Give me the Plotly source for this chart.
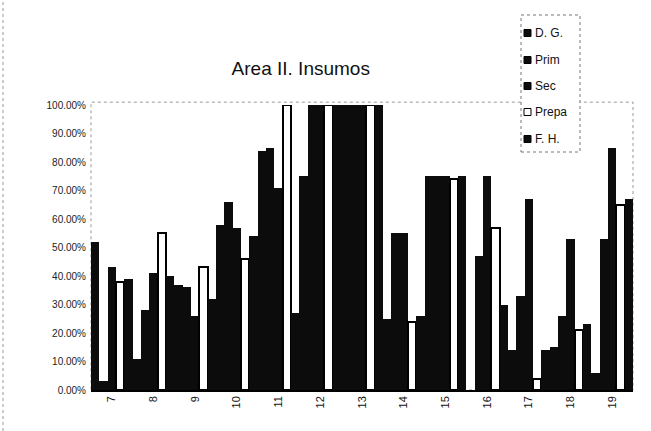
import plotly.graph_objects as go

categories = ['7', '8', '9', '10', '11', '12', '13', '14', '15', '16', '17', '18', '19']
dg    = [52, 11, 37, 58, 84, 75, 100, 25, 75, 0, 14, 15, 6]
prim  = [3, 28, 36, 66, 85, 100, 100, 55, 75, 47, 33, 26, 53]
sec   = [43, 41, 26, 57, 71, 100, 100, 55, 75, 75, 67, 53, 85]
prepa = [38, 55, 43, 46, 100, 100, 100, 24, 74, 57, 4, 21, 65]
fh    = [39, 40, 32, 54, 27, 100, 100, 26, 75, 30, 14, 23, 67]
y_ticks = [i / 10 for i in range(11)]

series = [
    ('D. G.', dg, '#0c0c0c', 0),
    ('Prim', prim, '#0c0c0c', 0),
    ('Sec', sec, '#0c0c0c', 0),
    ('Prepa', prepa, '#ffffff', 2),
    ('F. H.', fh, '#0c0c0c', 0),
]

# plot area in pixels (for placing the hand-drawn legend box)
L, R, T, B = 91, 633, 105, 390
def px(x):
    return (x - L) / (R - L)
def py(y):
    return (B - y) / (B - T)

fig = go.Figure()
for name, vals, fill, lw in series:
    fig.add_trace(go.Bar(
        name=name, x=categories, y=[v / 100 for v in vals],
        marker=dict(color=fill, line=dict(color='#000000', width=lw)),
        showlegend=False,
    ))

shapes = [
    dict(type='rect', xref='paper', yref='paper', x0=0, x1=1, y0=0, y1=1.01,
         line=dict(color='#999', width=1, dash='dot'), layer='below'),
    dict(type='line', xref='paper', yref='paper', x0=px(3), x1=px(3),
         y0=py(431), y1=py(0), line=dict(color='#999', width=1, dash='dot')),
    dict(type='rect', xref='paper', yref='paper', x0=px(521), x1=px(580),
         y0=py(152), y1=py(15), fillcolor='white',
         line=dict(color='#777', width=1, dash='dot')),
]
annotations = []
entry_y = [33, 60, 86, 112, 139]
for (name, vals, fill, lw), ey in zip(series, entry_y):
    shapes.append(dict(type='rect', xref='paper', yref='paper',
                       x0=px(524), x1=px(531), y0=py(ey + 3.5), y1=py(ey - 3.5),
                       fillcolor=fill, line=dict(color='#000', width=1)))
    annotations.append(dict(text=name, xref='paper', yref='paper', x=px(533),
                            y=py(ey), xanchor='left', yanchor='middle',
                            showarrow=False, font=dict(size=12, color='#111')))

fig.update_layout(
    width=651, height=431,
    margin=dict(l=L, r=651 - R, t=T, b=431 - B),
    paper_bgcolor='white', plot_bgcolor='white',
    barmode='group', bargap=0, bargroupgap=0,
    font=dict(family='Liberation Sans, Arial, sans-serif', color='#111'),
    title=dict(text='Area II. Insumos', x=0.462, xref='container', xanchor='center',
               y=1 - 68 / 431, yref='container', yanchor='middle',
               font=dict(size=19, color='#111')),
    showlegend=False,
    xaxis=dict(type='category', range=[-0.5, 12.5], tickangle=-90,
               tickfont=dict(size=11), showline=True, linecolor='#000',
               linewidth=1.5, ticks='', showgrid=False),
    yaxis=dict(range=[0, 1], tickvals=y_ticks, tickformat='.2%',
               tickfont=dict(size=10, color='#222'), showgrid=False,
               showline=False, ticks='', zeroline=False, ticklabelstandoff=4),
    shapes=shapes,
    annotations=annotations,
)

fig.write_html('out.html')
